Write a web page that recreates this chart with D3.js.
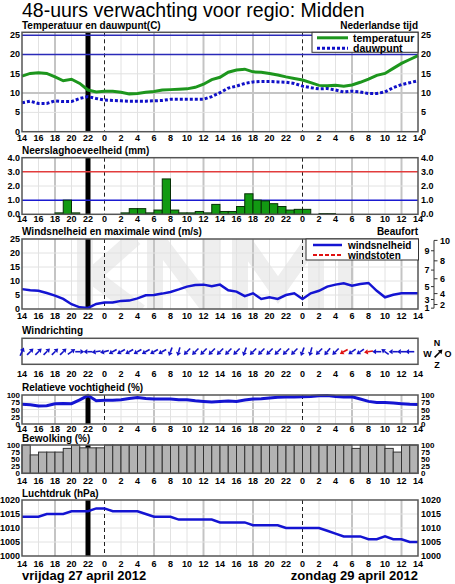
<!DOCTYPE html>
<html>
<head>
<meta charset="utf-8">
<script src="https://d3js.org/d3.v7.min.js"></script>
<style>
  body { margin: 0; background: #fff; }
  svg text { font-family: "Liberation Sans", Arial, Helvetica, sans-serif; fill: #000; }
  .tick { font-size: 9px; font-weight: bold; }
  .small { font-size: 8px; }
  .ptitle { font-size: 10px; font-weight: bold; }
</style>
</head>
<body>
<svg id="chart" width="455" height="584"></svg>
<script>
// hourly values, index 0 = 14:00 friday, index 48 = 14:00 sunday
const temperatuur = [14.4,15.1,15.3,15.1,14.2,13.2,13.6,12.5,10.8,10.3,10.5,10.5,10.2,9.8,9.9,10.2,10.4,10.8,10.9,11.0,11.1,11.5,12.3,13.5,14.1,15.4,16.0,16.2,15.5,15.4,15.1,14.7,14.2,13.8,13.4,12.7,12.0,11.9,12.0,11.8,12.1,12.8,13.6,14.6,15.1,16.4,17.7,18.7,19.7];
const dauwpunt = [7.5,7.9,7.3,7.3,8.0,7.8,7.8,8.6,9.1,8.6,8.2,8.1,8.0,7.9,7.9,7.9,8.0,8.1,8.4,8.4,8.4,8.4,8.4,9.1,10.1,11.3,11.8,12.5,12.9,13.0,13.0,12.9,12.8,12.5,11.8,11.4,11.1,11.2,10.8,10.3,10.5,10.3,9.9,9.9,10.3,11.4,12.2,12.7,13.2];
// one bar per hour (48)
const neerslag = [0,0,0,0,0.1,1.0,0.1,0,0,0,0,0,0.1,0.4,0.4,0.1,0.3,2.5,0.3,0.1,0.1,0.2,0.1,0.7,0.2,0.2,0.55,1.45,1.0,0.95,0.75,0.55,0.3,0.35,0.35,0,0.05,0.05,0,0,0,0,0,0,0,0,0,0];
const windsnelheid = [7.1,6.7,6.5,5.7,4.8,3.6,1.7,0.6,0.4,1.8,2.3,2.3,2.9,3.0,3.8,4.9,5.0,5.5,6.1,7.0,8.0,8.6,8.7,8.1,8.7,6.7,6.2,4.6,5.6,3.6,4.2,3.6,5.0,5.6,3.6,5.6,6.5,8.0,8.7,9.2,8.3,8.9,9.3,6.5,4.2,5.1,5.6,5.6,5.6];
// wind from (degrees), one per hour (48)
const windrichting = [205,225,225,225,225,225,235,270,90,80,75,60,60,60,60,60,60,60,20,15,45,45,45,45,45,45,45,20,45,45,45,45,45,45,20,15,45,40,45,60,55,55,80,90,125,90,90,90];
const windstootUur = [39, 42];
const vochtigheid = [68,66,62,63,70,71,70,83,98,80,82,82,84,88,91,88,86,86,86,84,84,80,78,76,78,79,78,83,86,87,90,92,93,93,94,95,97,98,95,93,94,86,78,74,74,72,70,68,67];
const bewolking = [100,65,75,75,75,88,100,90,90,90,100,100,100,100,100,100,100,100,100,100,100,100,100,100,100,100,100,100,100,100,100,100,100,100,100,100,100,100,100,100,88,100,100,100,88,75,100,100];
const luchtdruk = [1014,1014,1014,1015,1015,1015,1016,1016,1016,1017,1017,1016,1016,1016,1016,1015,1014,1014,1014,1013,1013,1013,1013,1013,1012,1012,1012,1012,1011,1011,1011,1011,1010,1010,1010,1010,1010,1009,1008,1007,1007,1007,1006,1006,1007,1006,1006,1005,1005];

const beaufortGrens = [0.3,1.6,3.4,5.5,8.0,10.8,13.9,17.2,20.8,24.5];
const beaufortLabels = ["1","2","3","4","5","6","7","8","9","10"];

const svg = d3.select("#chart");
const x = d3.scaleLinear().domain([0, 48]).range([22, 418]);
const hourTicks = d3.range(0, 49, 2);
const hourOf = i => (14 + i) % 24;
const nowIdx = 8;   // 22:00

function panel(top, bottom, domain, yticks, fmt, opts) {
  const y = d3.scaleLinear().domain(domain).range([bottom, top]);
  const g = svg.append("g");
  g.append("rect").attr("x", x(0)).attr("y", top).attr("width", x(48) - x(0)).attr("height", bottom - top).attr("fill", "#fff");
  if (opts.watermark) opts.watermark(g, y, top, bottom);
  if (opts.grid) {
    // vertical grid
    hourTicks.forEach(i => {
      const h = hourOf(i);
      if (h === 0 || i === 0 || i === 48) return;
      g.append("line").attr("x1", x(i)).attr("x2", x(i)).attr("y1", top).attr("y2", bottom)
        .attr("stroke", h % 6 === 0 ? "#c4c4c4" : "#e2e2e2")
        .attr("stroke-width", h % 6 === 0 ? 2 : 1);
    });
    (opts.hgrid || []).forEach(v => {
      g.append("line").attr("x1", x(0)).attr("x2", x(48)).attr("y1", y(v)).attr("y2", y(v))
        .attr("stroke", v === opts.hmain ? "#c4c4c4" : "#e2e2e2")
        .attr("stroke-width", v === opts.hmain ? 2 : 1);
    });
  }
  if (opts.markers) {
    [10, 34].forEach(i => {
      g.append("line").attr("x1", x(i)).attr("x2", x(i)).attr("y1", top).attr("y2", bottom)
        .attr("stroke", "#222").attr("stroke-dasharray", "4,3").attr("stroke-width", 1);
    });
    g.append("rect").attr("x", x(nowIdx) - 2.5).attr("y", top).attr("width", 5).attr("height", bottom - top).attr("fill", "#000");
  }
  const cls = opts.small ? "tick small" : "tick";
  if (yticks) {
    yticks.forEach(v => {
      g.append("text").attr("class", cls).attr("x", 20).attr("y", y(v) + 3).attr("text-anchor", "end").text(fmt(v));
      if (opts.right) g.append("text").attr("class", cls).attr("x", 421).attr("y", y(v) + 3).text(fmt(v));
    });
  }
  // hour tick labels
  hourTicks.forEach(i => {
    g.append("text").attr("class", "tick").attr("x", x(i)).attr("y", opts.labelY).attr("text-anchor", "middle").text(hourOf(i));
  });
  const frame = () => g.append("rect").attr("x", x(0)).attr("y", top).attr("width", x(48) - x(0)).attr("height", bottom - top)
      .attr("fill", "none").attr("stroke", "#555").attr("stroke-width", 1.5);
  return { g, y, frame };
}

function title(txt, yy, anchorRight) {
  svg.append("text").attr("class", "ptitle").attr("x", anchorRight ? 418 : 22).attr("y", yy)
    .attr("text-anchor", anchorRight ? "end" : "start").text(txt);
}

svg.append("text").attr("x", 22).attr("y", 16.5).attr("font-size", "19.5px").text("48-uurs verwachting voor regio: Midden");

// temperatuur
title("Temperatuur en dauwpunt(C)", 28.5);
title("Nederlandse tijd", 28.5, true);
const pT = panel(32.3, 131.7, [0, 25.75], [0, 5, 10, 15, 20, 25], d => d, { grid: true, hgrid: [5, 10, 15], hmain: 10, markers: true, right: true, labelY: 140.5 });
[20, 25].forEach(v => pT.g.append("line").attr("x1", x(0)).attr("x2", x(48)).attr("y1", pT.y(v)).attr("y2", pT.y(v)).attr("stroke", "#2a2ab8").attr("stroke-width", 1.5));
const lineT = d3.line().x((d, i) => x(i)).y(d => pT.y(d));
pT.g.append("path").datum(dauwpunt).attr("d", lineT).attr("fill", "none").attr("stroke", "#1010c8").attr("stroke-width", 3).attr("stroke-dasharray", "3,2");
pT.g.append("path").datum(temperatuur).attr("d", lineT).attr("fill", "none").attr("stroke", "#1d961d").attr("stroke-width", 3);
pT.frame();
const lgT = pT.g.append("g");
lgT.append("rect").attr("x", 312).attr("y", 32.3).attr("width", 106).attr("height", 20).attr("fill", "#fff").attr("stroke", "#333").attr("stroke-width", 1);
lgT.append("line").attr("x1", 317).attr("x2", 348).attr("y1", 37.8).attr("y2", 37.8).attr("stroke", "#1d961d").attr("stroke-width", 3);
lgT.append("line").attr("x1", 317).attr("x2", 348).attr("y1", 48.3).attr("y2", 48.3).attr("stroke", "#1010c8").attr("stroke-width", 3).attr("stroke-dasharray", "3,2");
lgT.append("text").attr("x", 353).attr("y", 41.5).attr("font-size", "10.5px").attr("font-weight", "bold").text("temperatuur");
lgT.append("text").attr("x", 353).attr("y", 51.5).attr("font-size", "10.5px").attr("font-weight", "bold").text("dauwpunt");

// neerslag
title("Neerslaghoeveelheid (mm)", 153.5);
const pN = panel(157.7, 214.3, [0, 4], [0, 1, 2, 3, 4], d3.format(".1f"), { grid: true, hgrid: [2], markers: true, right: true, labelY: 222 });
pN.g.append("line").attr("x1", x(0)).attr("x2", x(48)).attr("y1", pN.y(3)).attr("y2", pN.y(3)).attr("stroke", "#e23c3c").attr("stroke-width", 1.5);
pN.g.append("line").attr("x1", x(0)).attr("x2", x(48)).attr("y1", pN.y(1)).attr("y2", pN.y(1)).attr("stroke", "#1a1ad0").attr("stroke-width", 1.5);
neerslag.forEach((d, i) => {
  if (d <= 0) return;
  pN.g.append("rect").attr("x", x(i)).attr("y", pN.y(d)).attr("width", x(i + 1) - x(i)).attr("height", pN.y(0) - pN.y(d))
    .attr("fill", "#129a12").attr("stroke", "#063006").attr("stroke-width", 1);
});
pN.frame();

// wind
title("Windsnelheid en maximale wind (m/s)", 235);
title("Beaufort", 235, true);
// faint KNMI letters behind the wind panel
const knmiLetters = [
  [[85, 236], [85, 312]], [[135, 238], [92, 276], [140, 312]],
  [[155, 312], [155, 236], [212, 312], [212, 236]],
  [[240, 312], [240, 236], [278, 290], [316, 236], [316, 312]],
  [[346, 236], [346, 312]]
];
svg.append("clipPath").attr("id", "windclip").append("rect").attr("x", 22).attr("y", 239).attr("width", 396).attr("height", 70);
const pW = panel(239, 309, [0, 25], [0, 5, 10, 15, 20, 25], d => d, {
  grid: true, hgrid: [5, 10, 15, 20], markers: true, labelY: 318.5,
  watermark: g => {
    const wm = g.append("g").attr("clip-path", "url(#windclip)");
    knmiLetters.forEach(pts => wm.append("path").attr("d", d3.line()(pts))
      .attr("fill", "none").attr("stroke", "#eeeeee").attr("stroke-width", 16).attr("stroke-linejoin", "miter"));
  }
});
pW.g.append("path").datum(windsnelheid).attr("d", d3.line().x((d, i) => x(i)).y(d => pW.y(d)))
  .attr("fill", "none").attr("stroke", "#1414d2").attr("stroke-width", 2.5);
pW.frame();
const lgW = pW.g.append("g");
lgW.append("rect").attr("x", 306).attr("y", 239).attr("width", 112.5).attr("height", 21).attr("fill", "#fff").attr("stroke", "#333").attr("stroke-width", 1);
lgW.append("line").attr("x1", 313).attr("x2", 342).attr("y1", 245).attr("y2", 245).attr("stroke", "#1414d2").attr("stroke-width", 2.5);
lgW.append("line").attr("x1", 313).attr("x2", 342).attr("y1", 255).attr("y2", 255).attr("stroke", "#e01010").attr("stroke-width", 2).attr("stroke-dasharray", "4,2");
lgW.append("text").attr("x", 348).attr("y", 248.5).attr("font-size", "10px").attr("font-weight", "bold").text("windsnelheid");
lgW.append("text").attr("x", 348).attr("y", 258.5).attr("font-size", "10px").attr("font-weight", "bold").text("windstoten");
// beaufort axis
pW.g.append("line").attr("x1", 434).attr("x2", 434).attr("y1", pW.y(beaufortGrens[0])).attr("y2", pW.y(beaufortGrens[9])).attr("stroke", "#333").attr("stroke-width", 1);
beaufortGrens.forEach((v, k) => {
  const odd = k % 2 === 0;
  pW.g.append("line").attr("x1", odd ? 431 : 434).attr("x2", odd ? 434 : 437.5).attr("y1", pW.y(v)).attr("y2", pW.y(v)).attr("stroke", "#333").attr("stroke-width", 1);
  pW.g.append("text").attr("class", "tick").attr("x", odd ? 429.5 : 440).attr("y", pW.y(v) + 3.3)
    .attr("text-anchor", odd ? "end" : "start").text(beaufortLabels[k]);
});

// windrichting
title("Windrichting", 334);
const gD = svg.append("g");
gD.append("rect").attr("x", x(0)).attr("y", 338.3).attr("width", x(48) - x(0)).attr("height", 26).attr("fill", "#fff").attr("stroke", "#555").attr("stroke-width", 1.5);
function arrow(g, cx, cy, deg, len, color, sw) {
  const a = (deg + 180) * Math.PI / 180;
  const dx = Math.sin(a), dy = -Math.cos(a);
  const x1 = cx - dx * len / 2, y1 = cy - dy * len / 2, x2 = cx + dx * len / 2, y2 = cy + dy * len / 2;
  const h = 3.8, w = 2.6;
  const bx = x2 - dx * h, by = y2 - dy * h;
  g.append("line").attr("x1", x1).attr("y1", y1).attr("x2", bx).attr("y2", by).attr("stroke", color).attr("stroke-width", sw);
  g.append("path").attr("d", `M${x2},${y2}L${bx - dy * w},${by + dx * w}L${bx + dy * w},${by - dx * w}Z`).attr("fill", color);
}
windrichting.forEach((d, i) => {
  arrow(gD, x(i), 351.7, d, 9, windstootUur.includes(i) ? "#e01010" : "#1414c8", 1.6);
});
hourTicks.forEach(i => {
  gD.append("text").attr("class", "tick").attr("x", x(i)).attr("y", 377).attr("text-anchor", "middle").text(hourOf(i));
});
// kompas
[["N", 437, 346], ["W", 427.5, 357], ["O", 448, 357], ["Z", 437, 368]].forEach(c => {
  gD.append("text").attr("class", "tick").attr("x", c[1]).attr("y", c[2]).attr("text-anchor", "middle").text(c[0]);
});
arrow(gD, 438.5, 353.5, 225, 11, "#000", 1.6);

// vochtigheid
title("Relatieve vochtigheid (%)", 391);
const pV = panel(395, 424, [0, 100], [0, 25, 50, 75, 100], d => d, { grid: true, hgrid: [25, 50, 75], markers: true, right: true, small: true, labelY: 431.5 });
pV.g.append("path").datum(vochtigheid).attr("d", d3.line().x((d, i) => x(i)).y(d => pV.y(d)))
  .attr("fill", "none").attr("stroke", "#1414d2").attr("stroke-width", 3);
pV.frame();

// bewolking
title("Bewolking (%)", 442.3);
const pB = panel(445, 473.3, [0, 100], [0, 25, 50, 75, 100], d => d, { grid: false, markers: true, right: true, small: true, labelY: 483.5 });
bewolking.forEach((d, i) => {
  pB.g.append("rect").attr("x", x(i)).attr("y", pB.y(d)).attr("width", x(i + 1) - x(i)).attr("height", pB.y(0) - pB.y(d))
    .attr("fill", "#b3b3b3").attr("stroke", "#333").attr("stroke-width", 1);
});
pB.frame();

// luchtdruk
title("Luchtdruk (hPa)", 496.7);
const pL = panel(500, 556, [1000, 1020], [1000, 1005, 1010, 1015, 1020], d => d, { grid: true, hgrid: [1005, 1010, 1015], markers: true, right: true, labelY: 567 });
pL.g.append("path").datum(luchtdruk).attr("d", d3.line().x((d, i) => x(i)).y(d => pL.y(d)))
  .attr("fill", "none").attr("stroke", "#1414d2").attr("stroke-width", 2.5);
pL.frame();

svg.append("text").attr("x", 22).attr("y", 579.5).attr("font-size", "13px").attr("font-weight", "bold").text("vrijdag 27 april 2012");
svg.append("text").attr("x", 418).attr("y", 579.5).attr("text-anchor", "end").attr("font-size", "13px").attr("font-weight", "bold").text("zondag 29 april 2012");
</script>
</body>
</html>
